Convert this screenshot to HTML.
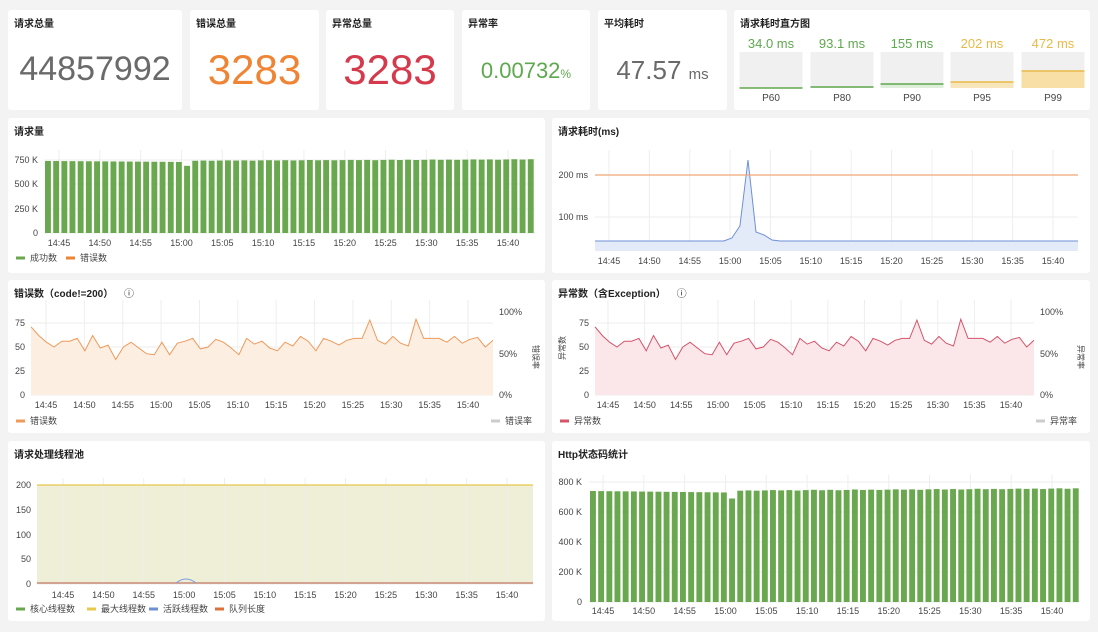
<!DOCTYPE html>
<html><head><meta charset="utf-8">
<style>
*{margin:0;padding:0;box-sizing:border-box}
body{width:1098px;height:632px;background:#f3f3f3;font-family:"Liberation Sans","Noto Sans CJK SC",sans-serif;position:relative;overflow:hidden;color:#222}
.p{position:absolute;background:#fff;border-radius:3px}
.t{position:absolute;left:6px;top:5px;font-size:10px;font-weight:bold;color:#222}
.big{position:absolute;left:0;right:0;text-align:center}
svg{position:absolute;left:0;top:0}
svg text{font-family:"Liberation Sans","Noto Sans CJK SC",sans-serif;font-size:9px;fill:#444}
</style></head><body>
<div class="p" style="left:8px;top:10px;width:174px;height:100px"><div class="t">请求总量</div><div class="big" style="top:40px;font-size:34px;color:#6a6a6a">44857992</div></div>
<div class="p" style="left:190px;top:10px;width:129px;height:100px"><div class="t">错误总量</div><div class="big" style="top:36px;font-size:42px;color:#ee8434">3283</div></div>
<div class="p" style="left:326px;top:10px;width:128px;height:100px"><div class="t">异常总量</div><div class="big" style="top:36px;font-size:42px;color:#d43a4b">3283</div></div>
<div class="p" style="left:462px;top:10px;width:128px;height:100px"><div class="t">异常率</div><div class="big" style="top:48px;font-size:22px;color:#5ea84e">0.00732<span style="font-size:12px">%</span></div></div>
<div class="p" style="left:598px;top:10px;width:129px;height:100px"><div class="t">平均耗时</div><div class="big" style="top:45px;font-size:26px;color:#6a6a6a">47.57 <span style="font-size:15px">ms</span></div></div>
<div class="p" style="left:734px;top:10px;width:356px;height:100px"><div class="t">请求耗时直方图</div></div>
<div class="p" style="left:8px;top:118px;width:537px;height:155px"><div class="t">请求量</div></div>
<div class="p" style="left:552px;top:118px;width:538px;height:155px"><div class="t">请求耗时(ms)</div></div>
<div class="p" style="left:8px;top:280px;width:537px;height:153px"><div class="t">错误数（code!=200） <span style="font-weight:normal;margin-left:8px">ⓘ</span></div></div>
<div class="p" style="left:552px;top:280px;width:538px;height:153px"><div class="t">异常数（含Exception） <span style="font-weight:normal;margin-left:8px">ⓘ</span></div></div>
<div class="p" style="left:8px;top:441px;width:537px;height:180px"><div class="t">请求处理线程池</div></div>
<div class="p" style="left:552px;top:441px;width:538px;height:180px"><div class="t">Http状态码统计</div></div>
<svg id="s" width="1098" height="632"></svg>
<script>
let o='';
const T=['14:45','14:50','14:55','15:00','15:05','15:10','15:15','15:20','15:25','15:30','15:35','15:40'];
function xl(x0,x1,y,g1,g2){const d=(x1-x0)/11;T.forEach((t,i)=>{const x=x0+i*d;o+=`<text x="${x}" y="${y}" text-anchor="middle">${t}</text>`;if(g1!==undefined)o+=`<line x1="${x}" x2="${x}" y1="${g1}" y2="${g2}" stroke="#eee"/>`;});}
function yl(x,y,t,gx0,gx1,a){o+=`<text x="${x}" y="${y+3}" text-anchor="${a||'end'}">${t}</text>`;if(gx0!==undefined)o+=`<line x1="${gx0}" x2="${gx1}" y1="${y}" y2="${y}" stroke="#eee"/>`;}
function leg(x,y,c,t){o+=`<rect x="${x}" y="${y-1.5}" width="9" height="3" fill="${c}"/><text x="${x+14}" y="${y+3}">${t}</text>`;}
// histogram
const H=[['34.0 ms',771,88,'#5ea84e',0],['93.1 ms',842,87,'#5ea84e',0],['155 ms',912,84,'#5ea84e','#dfeedb'],['202 ms',982,82,'#e9b949','#f7e6bb'],['472 ms',1053,71,'#e9b949','#f7dfa6']];
H.forEach((h,k)=>{const x=h[1]-31.5;o+=`<rect x="${x}" y="52" width="63" height="36" fill="#f0f0f0"/>`;if(h[4])o+=`<rect x="${x}" y="${h[2]}" width="63" height="${88-h[2]}" fill="${h[4]}"/>`;o+=`<line x1="${x}" x2="${x+63}" y1="${h[2]}" y2="${h[2]}" stroke="${h[3]}" stroke-width="1.5"/><text x="${h[1]}" y="48" text-anchor="middle" style="font-size:13px;fill:${h[3]}">${h[0]}</text><text x="${h[1]}" y="101" text-anchor="middle" style="font-size:10px">P${[60,80,90,95,99][k]}</text>`;});
// bars
const bv=[];for(let i=0;i<60;i++){let v=735+Math.round(i/60*20)+((i*7)%5);if(i==17)v=690;if(i<17)v=740-i*0.6;bv.push(v);}
function bars(x0,x1,y0,yTop,vTop){const n=60,d=(x1-x0)/n;for(let i=0;i<n;i++){const h=(bv[i]/vTop)*(y0-yTop);o+=`<rect x="${(x0+i*d+1).toFixed(1)}" y="${y0-h}" width="${(d-2.3).toFixed(1)}" height="${h}" fill="#6aa84f"/>`;}}
// chart1
[[160,'750 K'],[184,'500 K'],[209,'250 K'],[233,'0']].forEach(a=>yl(38,a[0],a[1],44,535));
xl(59,508,246,150,233);bars(44,535,233,160,750);leg(16,258,'#6aa84f','成功数');leg(66,258,'#ee8434','错误数');
// chart2
yl(588,175,'200 ms',595,1078);yl(588,217,'100 ms',595,1078);xl(609,1053,264,150,251);
let pts=[];for(let i=0;i<=60;i++){let x=595+i*(483/60),y=241;if(i==17)y=238;if(i==18)y=226;if(i==19)y=160;if(i==20)y=232;if(i==21)y=235;if(i==22)y=240;pts.push(x.toFixed(1)+','+y);}
o+=`<polygon points="595,251 ${pts.join(' ')} 1078,251" fill="#e4ebf8"/><polyline points="${pts.join(' ')}" fill="none" stroke="#6d8fd6" stroke-width="1"/><line x1="595" x2="1078" y1="175" y2="175" stroke="#f0a878" stroke-width="1.2"/>`;
// charts 3,4
const D=[71,62,55,50,56,56,59,46,62,49,52,37,50,55,49,43,42,55,42,54,56,59,48,50,58,55,49,42,59,53,56,49,46,55,51,61,56,46,59,56,52,57,59,59,78,57,53,61,54,51,79,59,59,59,55,61,54,58,60,50,57];
function lc(x0,x1,lx0,lx1,line,fill,ly,r,rl){[[323,'75'],[347,'50'],[371,'25'],[395,'0']].forEach(a=>yl(x0-6,a[0],a[1],x0,x1));
[[312,'100%'],[354,'50%'],[395,'0%']].forEach(a=>yl(x1+6,a[0],a[1],undefined,undefined,'start'));xl(lx0,lx1,408,300,395);
const p=D.map((v,i)=>(x0+i*(x1-x0)/60).toFixed(1)+','+(395-v*0.96).toFixed(1)).join(' ');
o+=`<polygon points="${x0},395 ${p} ${x1},395" fill="${fill}"/><polyline points="${p}" fill="none" stroke="${line}" stroke-width="1"/>`;leg(ly,421,line,r[0]);leg(rl,421,'#ccc',r[1]);}
lc(31,493,46,468,'#ee9a5a','#fdeee2',16,['错误数','错误率'],491);
o+=`<text x="533" y="345" style="font-size:8px" transform="rotate(90 533 345)">错误率</text>`;
lc(595,1034,608,1011,'#d4546a','#fbe6e9',560,['异常数','异常率'],1036);
o+=`<text x="565" y="360" style="font-size:8px" transform="rotate(-90 565 360)">异常数</text><text x="1078" y="345" style="font-size:8px" transform="rotate(90 1078 345)">异常率</text>`;
// chart5
[[485,'200'],[510,'150'],[535,'100'],[559,'50'],[584,'0']].forEach(a=>yl(31,a[0],a[1],37,533));
o+=`<rect x="37" y="485" width="496" height="99" fill="#eeefd6"/>`;xl(63,507,598,478,584);
o+=`<line x1="37" x2="533" y1="485" y2="485" stroke="#e6c84a" stroke-width="1.2"/><line x1="37" x2="533" y1="583" y2="583" stroke="#c98a7a" stroke-width="1.5"/><path d="M176,583 Q186,575 196,583" fill="none" stroke="#7b9fe0"/>`;
leg(16,609,'#6aa84f','核心线程数');leg(87,609,'#e6c84a','最大线程数');leg(149,609,'#6d8fd6','活跃线程数');leg(215,609,'#e0703a','队列长度');
// chart6
[[482,'800 K'],[512,'600 K'],[542,'400 K'],[572,'200 K'],[602,'0']].forEach(a=>yl(582,a[0],a[1],589,1080));
xl(603,1052,614,475,602);bars(589,1080,602,482,800);
document.getElementById('s').innerHTML=o;
</script>
</body></html>
